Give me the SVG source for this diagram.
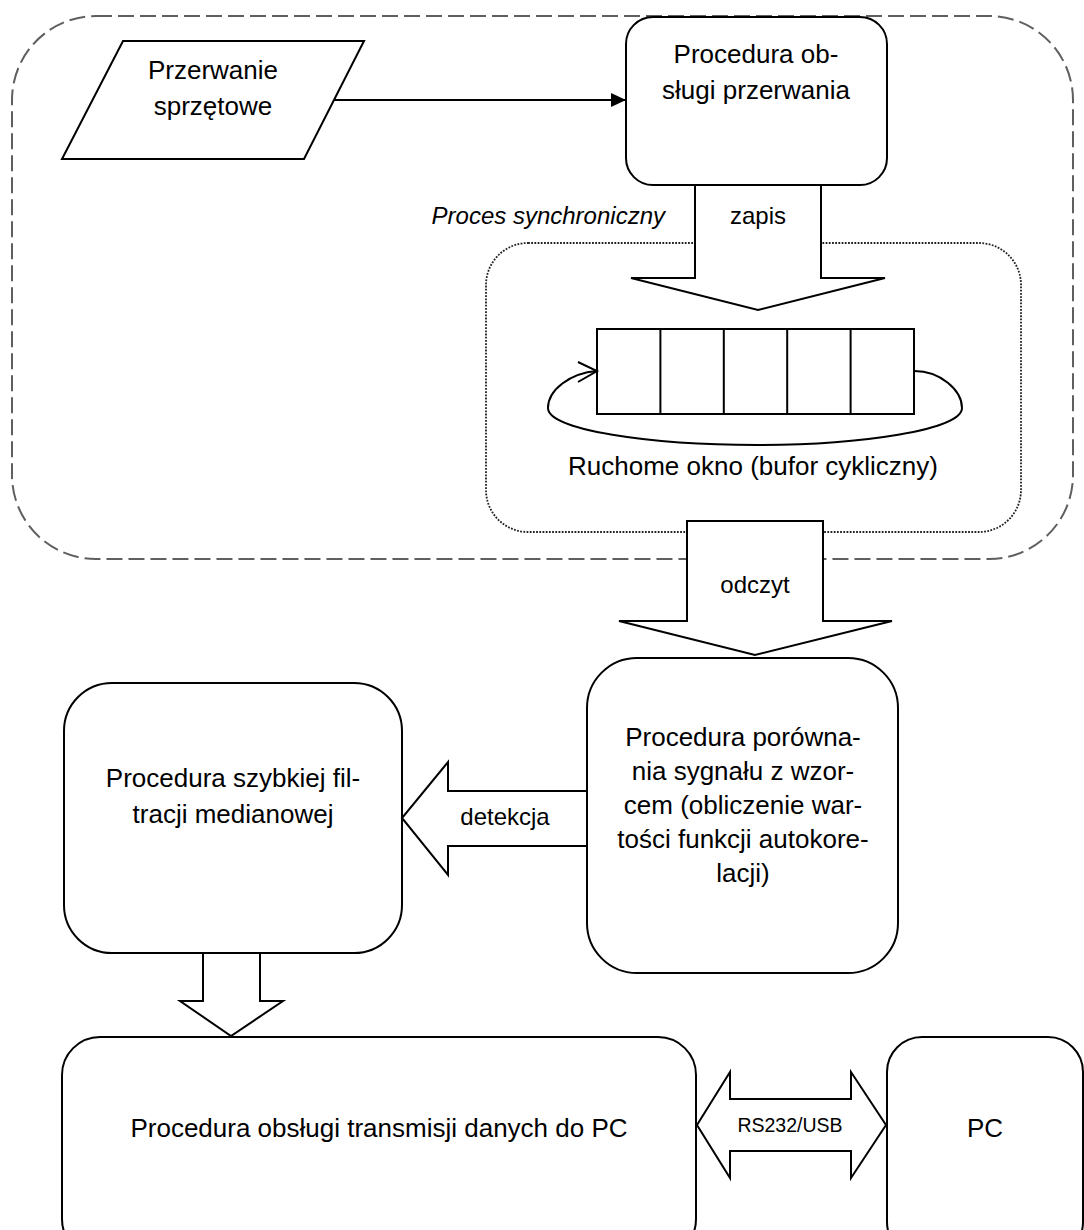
<svg xmlns="http://www.w3.org/2000/svg" width="1084" height="1230" viewBox="0 0 1084 1230">
<style>
.box{fill:#fff;stroke:#000;stroke-width:2}
.fat{fill:#fff;stroke:#000;stroke-width:2;stroke-linejoin:miter}
.t{font-family:"Liberation Sans",Arial,sans-serif;font-size:26px;fill:#000;text-anchor:middle}
.l{font-size:24px}
.s{font-size:19.5px}
.ln{fill:none;stroke:#000;stroke-width:2}
</style>
<defs>
<marker id="ah" markerUnits="userSpaceOnUse" markerWidth="16" markerHeight="14" refX="15" refY="7" orient="auto">
<path d="M0,0 L15,7 L0,14 z" fill="#000"/>
</marker>
</defs>
<rect width="1084" height="1230" fill="#fff"/>

<g id="sync-process">
<rect x="12" y="16" width="1061" height="543" rx="84" ry="84" fill="none" stroke="#5f5f5f" stroke-width="2" stroke-dasharray="16 6"/>
<text class="t l" x="665" y="224" font-style="italic" style="text-anchor:end">Proces synchroniczny</text>
</g>

<g id="buffer-area">
<rect x="486" y="243" width="535" height="289" rx="42" ry="42" fill="none" stroke="#222" stroke-width="1.8" stroke-dasharray="1.8 1.4"/>
</g>

<g id="hw-interrupt">
<polygon class="box" points="123,41 364,41 304,159 62,159"/>
<text class="t" x="213" y="79">Przerwanie</text>
<text class="t" x="213" y="115">sprzętowe</text>
</g>

<g id="isr">
<rect class="box" x="626" y="17" width="261" height="168" rx="27" ry="27"/>
<text class="t" x="756" y="63">Procedura ob-</text>
<text class="t" x="756" y="99">sługi przerwania</text>
</g>

<g id="ring-buffer">
<rect class="box" x="597" y="329" width="317" height="85"/>
<path class="ln" d="M660.4,329 V414 M723.8,329 V414 M787.2,329 V414 M850.6,329 V414"/>
<path class="ln" d="M914.5,371 C940,371 962,390 962,408 C962,430 860,445 757,445 C650,445 548,430 548,408 C548,390 570,373 597,371"/>
<polyline class="ln" points="578,362 597,371 578,382"/>
<text class="t" x="753" y="475">Ruchome okno (bufor cykliczny)</text>
</g>

<g id="compare">
<rect class="box" x="587" y="658" width="311" height="315" rx="50" ry="50"/>
<text class="t" x="743" y="746">Procedura porówna-</text>
<text class="t" x="743" y="780">nia sygnału z wzor-</text>
<text class="t" x="743" y="814">cem (obliczenie war-</text>
<text class="t" x="743" y="848">tości funkcji autokore-</text>
<text class="t" x="743" y="882">lacji)</text>
</g>

<g id="median-filter">
<rect class="box" x="64" y="683" width="338" height="270" rx="48" ry="48"/>
<text class="t" x="233" y="787">Procedura szybkiej fil-</text>
<text class="t" x="233" y="823">tracji medianowej</text>
</g>

<g id="transmission">
<rect class="box" x="62" y="1037" width="634" height="220" rx="38" ry="38"/>
<text class="t" x="379" y="1137">Procedura obsługi transmisji danych do PC</text>
</g>

<g id="pc">
<rect class="box" x="887" y="1037" width="196" height="220" rx="35" ry="35"/>
<text class="t" x="985" y="1137">PC</text>
</g>

<g id="connectors">
<line x1="334" y1="100" x2="626" y2="100" stroke="#000" stroke-width="2" marker-end="url(#ah)"/>
<g id="zapis">
<polygon class="fat" points="695,185 821,185 821,278 885,278 758,310 631,278 695,278"/>
<text class="t l" x="758" y="224">zapis</text>
</g>
<g id="odczyt">
<polygon class="fat" points="687,521 823,521 823,621 892,621 755,655 619,621 687,621"/>
<text class="t l" x="755" y="593">odczyt</text>
</g>
<g id="detekcja">
<polygon class="fat" points="587,791 587,846 448,846 448,875 402,818 448,762 448,791"/>
<text class="t l" x="505" y="825">detekcja</text>
</g>
<g id="to-transmission">
<polygon class="fat" points="203,953 260,953 260,1001 283,1001 231,1036 180,1001 203,1001"/>
</g>
<g id="rs232">
<polygon class="fat" points="697,1125 730,1072 730,1099 851,1099 851,1072 886,1125 851,1178 851,1151 730,1151 730,1178"/>
<text class="t s" x="790" y="1132">RS232/USB</text>
</g>
</g>
</svg>
